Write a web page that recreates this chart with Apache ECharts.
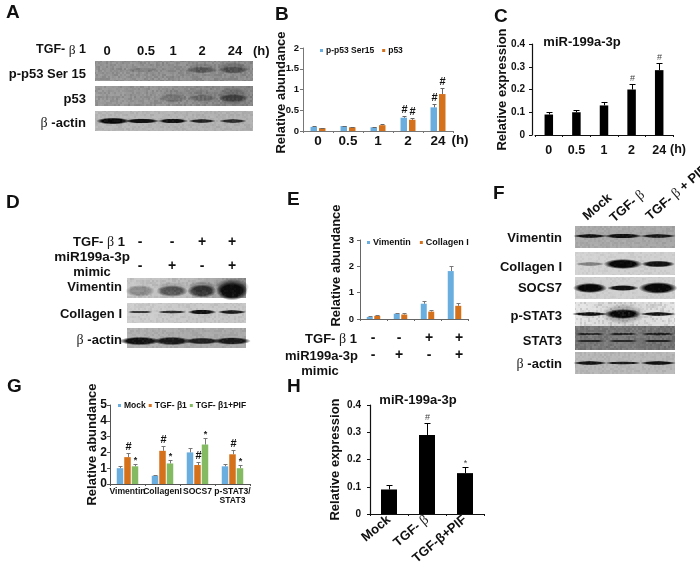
<!DOCTYPE html>
<html><head><meta charset="utf-8">
<style>html,body{margin:0;padding:0;background:#fff}#c{width:700px;height:573px}#c canvas{filter:blur(.4px)}</style>
<script src="https://cdn.jsdelivr.net/npm/echarts@6/dist/echarts.min.js"></script>
</head><body><div id="c"></div>
<script>
// ---------- data ----------
const hours = ['0','0.5','1','2','24'];
const bPhospho = [0.10,0.12,0.09,0.32,0.57];
const bPhosphoErr = [0.012,0.012,0.012,0.03,0.09];
const bPhosphoMark = ['','','','#','#'];
const bP53 = [0.07,0.09,0.14,0.27,0.89];
const bP53Err = [0.01,0.012,0.02,0.04,0.14];
const bP53Mark = ['','','','#','#'];
const cMir = [0.09,0.10,0.13,0.20,0.285];
const cMirErr = [0.012,0.012,0.015,0.022,0.033];
const cMirMark = ['','','','#','#'];
const eCats = ['a','b','c','d'];
const eVim = [0.08,0.2,0.58,1.82];
const eVimErr = [0.02,0.04,0.1,0.2];
const eCol = [0.12,0.17,0.28,0.5];
const eColErr = [0.02,0.04,0.06,0.1];
const gCats = ['Vimentin','CollagenI','SOCS7','p-STAT3/\nSTAT3'];
const gMock = [1.0,0.52,2.0,1.12];
const gMockErr = [0.12,0.05,0.25,0.12];
const gTgf = [1.7,2.1,1.2,1.88];
const gTgfErr = [0.25,0.3,0.2,0.28];
const gTgfMark = ['#','#','#','#'];
const gPif = [1.12,1.3,2.5,1.0];
const gPifErr = [0.17,0.2,0.4,0.18];
const gPifMark = ['*','*','*','*'];
const hCats = ['Mock','TGF- {b|β}','TGF-β+PIF'];
const hMir = [0.09,0.29,0.15];
const hMirErr = [0.015,0.045,0.022];
const hMirMark = ['','#','*'];

const BLUE='#6aaee0', ORANGE='#d5701b', GREEN='#84bb62', BLACK='#000';
const FF='"Liberation Sans",Arial,sans-serif';
const g=[], series=[], grids=[], xAxes=[], yAxes=[];

// ---------- text helpers ----------
function txt(s,x,y,size,align,rot){
  g.push({type:'text',x,y,rotation:rot||0,silent:true,z:10,style:{text:s,fontFamily:FF,fontWeight:'bold',fontSize:size,fill:'#111',
    align:align||'left',verticalAlign:'middle',
    rich:{b:{fontFamily:'"Liberation Serif",serif',fontWeight:'normal',fontSize:size+1,fill:'#222'}}}});
}
// ---------- chart helper ----------
function chart(o){
  const i=grids.length;
  grids.push({left:o.l,top:o.t,width:o.w,height:o.h});
  xAxes.push({gridIndex:i,type:'category',data:o.cats,
    axisLine:{lineStyle:{color:o.lineColor,width:o.lw}},
    axisTick:{show:true,length:2,lineStyle:{color:o.lineColor,width:1}},
    axisLabel:Object.assign({show:true,fontFamily:FF,fontWeight:'bold',color:'#111',fontSize:o.xFont,margin:o.xMargin,interval:0},o.xLabel||{})});
  yAxes.push({gridIndex:i,type:'value',min:0,max:o.max,interval:o.step,offset:o.yOffset||0,
    name:o.yName,nameLocation:'middle',nameGap:o.nameGap,nameMoveOverlap:false,
    nameTextStyle:Object.assign({fontFamily:FF,fontWeight:'bold',fontSize:13,color:'#111'},o.namePad?{padding:o.namePad}:{}),
    splitLine:{show:false},
    axisLine:{show:true,lineStyle:{color:o.lineColor,width:o.lw}},
    axisTick:{show:true,length:3,inside:false,lineStyle:{color:o.lineColor,width:1}},
    axisLabel:{fontFamily:FF,fontWeight:'bold',color:'#111',fontSize:o.yFont,margin:o.yMargin}});
  const n=o.s.length;
  o.s.forEach((s,k)=>{
    series.push({type:'bar',name:s.name,xAxisIndex:i,yAxisIndex:i,data:s.v,barWidth:o.bw,barGap:(o.gap/o.bw*100)+'%',
      itemStyle:{color:s.color},silent:true});
  });
  o.s.forEach((s,k)=>{
    const off=(k-(n-1)/2)*(o.bw+o.gap);
    series.push({type:'custom',xAxisIndex:i,yAxisIndex:i,silent:true,z:5,clip:false,
      data:s.v.map((v,j)=>[j,v,s.e[j]]),encode:{x:0,y:1},
      renderItem:(p,api)=>{
        const v=api.value(1), e=api.value(2), c=api.coord([api.value(0),v]), t=api.coord([api.value(0),v+e]);
        const x=Math.round(c[0]+off)+0.5, y=Math.round(t[1])+0.5;
        const kids=[
          {type:'line',shape:{x1:x,y1:c[1],x2:x,y2:y},style:{stroke:o.errColor,lineWidth:1}},
          {type:'line',shape:{x1:x-o.cap,y1:y,x2:x+o.cap,y2:y},style:{stroke:o.errColor,lineWidth:1}}];
        const m=s.m&&s.m[p.dataIndex];
        if(m){
          const st=o.mark[m];
          kids.push({type:'text',x:x,y:y-(m==='*'?-1:1),style:{text:m,fontFamily:FF,fontWeight:st.w,fontSize:st.s,fill:st.c,align:'center',verticalAlign:'bottom'}});
        }
        return {type:'group',children:kids};
      }});
  });
}
const boldMark={'#':{s:11,w:'bold',c:'#111'},'*':{s:9,w:'bold',c:'#222'}};
const thinMark={'#':{s:9,w:'normal',c:'#444'},'*':{s:9,w:'normal',c:'#444'}};

// B
chart({l:303,t:48,w:150,h:83,cats:hours,max:2,step:0.5,bw:6.5,gap:2,cap:2,errColor:'#666',lineColor:'#777',lw:1,
  xFont:13.5,xMargin:3,yFont:9.5,yMargin:4,yName:'Relative abundance',nameGap:15,namePad:[0,6,0,0],mark:boldMark,
  s:[{name:'p-p53 Ser15',v:bPhospho,e:bPhosphoErr,m:bPhosphoMark,color:BLUE},{name:'p53',v:bP53,e:bP53Err,m:bP53Mark,color:ORANGE}]});
// C
chart({l:535,t:44,w:138,h:91,cats:hours,max:0.4,step:0.1,bw:8.5,gap:0,cap:3,errColor:BLACK,lineColor:'#111',lw:1.2,yOffset:3,
  xFont:12.5,xMargin:9,yFont:10,yMargin:7,yName:'Relative expression',nameGap:23,mark:thinMark,
  s:[{name:'miR-199a-3p C',v:cMir,e:cMirErr,m:cMirMark,color:BLACK}]});
// E
chart({l:360,t:240,w:108,h:79,cats:eCats,max:3,step:1,bw:6,gap:1.5,cap:2,errColor:'#777',lineColor:'#666',lw:1,
  xFont:9,xMargin:3,xLabel:{show:false},yFont:9.5,yMargin:6,yName:'Relative abundance',nameGap:17,namePad:[0,0,0,28],mark:boldMark,
  s:[{name:'Vimentin',v:eVim,e:eVimErr,color:BLUE},{name:'Collagen I',v:eCol,e:eColErr,color:ORANGE}]});
// G
chart({l:110,t:405,w:140,h:79,cats:gCats,max:5,step:1,bw:6.5,gap:1,cap:2,errColor:'#777',lineColor:'#555',lw:1,
  xFont:8.6,xMargin:3,xLabel:{lineHeight:9},yFont:12,yMargin:3,yName:'Relative abundance',nameGap:11,mark:boldMark,
  s:[{name:'Mock',v:gMock,e:gMockErr,color:BLUE},{name:'TGF- β1',v:gTgf,e:gTgfErr,m:gTgfMark,color:ORANGE},{name:'TGF- β1+PIF',v:gPif,e:gPifErr,m:gPifMark,color:GREEN}]});
// H
chart({l:370,t:405,w:114,h:109,cats:hCats,max:0.4,step:0.1,bw:16,gap:0,cap:3,errColor:BLACK,lineColor:'#111',lw:1.2,
  xFont:13,xMargin:4,xLabel:{rotate:40,rich:{b:{fontFamily:'"Liberation Serif",serif',fontWeight:'normal',fontSize:14,color:'#222'}}},
  yFont:10,yMargin:9,yName:'Relative expression',nameGap:28,mark:thinMark,
  s:[{name:'miR-199a-3p H',v:hMir,e:hMirErr,m:hMirMark,color:BLACK}]});

// ---------- blot panels: lane centres and band strengths ----------
const lanesA=[113,142,173,202,233], lanesD=[140,172,202,232], lanesF=[590,623,658];
const grain=document.createElement('canvas'); grain.width=grain.height=128;
(function(){const c=grain.getContext('2d');
  for(let j=0;j<64;j++)for(let i=0;i<64;i++){
    const h=Math.sin(i*12.9898+j*78.233)*43758.5453, t=h-Math.floor(h);
    c.fillStyle=t>.5?'rgba(255,255,255,'+(t-.5)*.5+')':'rgba(0,0,0,'+(.5-t)*.5+')';
    c.fillRect(i*2,j*2,2,2);
  }})();
function grad(a,b,c){return {type:'linear',x:0,y:0,x2:1,y2:0,colorStops:[{offset:0,color:a},{offset:.5,color:b},{offset:1,color:c}]};}
function blot(x0,x1,y0,y1,bg,lanes,cy,w,hs,dark,noise){
  if(bg) g.push({type:'rect',shape:{x:x0,y:y0,width:x1-x0,height:y1-y0},style:{fill:bg},silent:true});
  lanes.forEach((cx,i)=>{
    if(!hs[i])return;
    const op=dark[i], ww=(Array.isArray(w)?w[i]:w)*1.22, hh=hs[i]*1.7, col='rgba(8,8,8,';
    g.push({type:'circle',shape:{cx:0,cy:0,r:1},x:cx,y:cy,scaleX:ww/2,scaleY:hh/2,silent:true,
      style:{fill:{type:'radial',x:.5,y:.5,r:.5,colorStops:[{offset:0,color:col+op+')'},{offset:.65,color:col+op+')'},{offset:1,color:col+'0)'}]}}});
  });
  if(noise) g.push({type:'rect',shape:{x:x0,y:y0,width:x1-x0,height:y1-y0},silent:true,
    style:{fill:{image:grain,repeat:'repeat'},opacity:noise}});
}
// A
blot(95,253,61,81,grad('#959595','#8f8f8f','#8b8b8b'),lanesA,70,26,[3,3,3,4,4],[.04,.14,.05,.35,.35],.4);
blot(0,0,0,0,null,[202,233],68,26,[6,7],[.1,.2],0);
blot(95,253,86,106,grad('#999','#909090','#808080'),lanesA,98,24,[3,3,5,4,5],[.02,.02,.14,.2,.45],.4);
blot(0,0,0,0,null,[173,202,233],96,26,[9,9,11],[.07,.08,.18],0);
blot(95,253,111,131,grad('#b8b8b8','#b4b4b4','#b0b0b0'),lanesA,121,[28,29,25,23,23],[4,3,3,2.5,2.5],[1,.95,.95,.85,.8],.25);
// D
blot(127,246,278,298,grad('#c8c8c8','#bbbbbb','#8c8c8c'),lanesD,291,[24,26,24,26],[7,7,8,11],[.3,.55,.7,.95],.3);
blot(0,0,0,0,null,[172,202,232],287,[26,24,28],[6,7,10],[.1,.2,.45],0);
blot(127,246,303,323,grad('#cfcfcf','#c8c8c8','#c8c8c8'),lanesD,312,[22,24,24,24],[1.5,2,3,2.5],[.75,.8,.95,.9],.25);
blot(127,246,328,348,grad('#b2b2b2','#aaaaaa','#aaaaaa'),lanesD,341,[34,31,30,31],[5,5,4,4.5],[.95,.9,.85,.9],.25);
// F
blot(575,675,226,248,grad('#ababab','#a9a9a9','#a5a5a5'),lanesF,236,[28,32,30],[2.5,3,2.5],[.95,.95,.9],.25);
blot(575,675,252,275,grad('#d4d4d4','#d0d0d0','#d0d0d0'),lanesF,264,[24,32,28],[2.5,6,4],[.4,1,.95],.2);
blot(575,675,277,299,grad('#cfcfcf','#d0d0d0','#cfcfcf'),lanesF,288,[28,26,32],[6,3.5,7],[1,.95,1],.2);
blot(575,675,302,326,grad('#e6e6e6','#d4d4d4','#e4e4e4'),lanesF,314,[30,30,30],[2.5,6,2.5],[.95,1,.95],.5);
blot(0,0,0,0,null,[623],314,36,[12],[.2],.0);
blot(575,675,326,350,grad('#757575','#777777','#6e6e6e'),lanesF,334,[26,26,28],[1.5,1.5,2],[.75,.75,.8],.4);
blot(0,0,0,0,null,lanesF,341,[26,26,28],[1.5,1.5,1.5],[.7,.7,.75],0);
blot(575,675,352,374,'#b8b8b8',lanesF,363,[28,30,30],[2.5,2,2.5],[.95,.9,.95],.25);

// ---------- free text ----------
[['A',6,13],['B',275,15],['C',494,17],['D',6,203],['E',287,200],['F',493,194],['G',7,387],['H',287,387]].forEach(t=>txt(t[0],t[1],t[2],19,'left'));
txt('TGF- {b|β} 1',86,50,12.5,'right');
txt('(h)',253,51,13,'left');
[[107,'0'],[146,'0.5'],[173,'1'],[202,'2'],[235,'24']].forEach(t=>txt(t[1],t[0],51,13,'center'));
txt('p-p53 Ser 15',86,74,13,'right');
txt('p53',86,99,13,'right');
txt('{b|β} -actin',86,123,13,'right');
txt('(h)',460,140,13.5,'center');
txt('(h)',678,150,12.5,'center');
// D
txt('TGF- {b|β} 1',125,242,13,'right');
txt('miR199a-3p',130,257,13.5,'right');
txt('mimic',92,272,13,'center');
txt('Vimentin',122,287,13,'right');
txt('Collagen I',122,314,13,'right');
txt('{b|β} -actin',122,340,13,'right');
const signsD1=['-','-','+','+'], signsD2=['-','+','-','+'];
lanesD.forEach((x,i)=>{txt(signsD1[i],x,242,14,'center');txt(signsD2[i],x,266,14,'center');});
// E
txt('TGF- {b|β} 1',357,339,13,'right');
txt('miR199a-3p',358,356,13,'right');
txt('mimic',320,371,13,'center');
[373,399,429,459].forEach((x,i)=>{txt(signsD1[i],x,338,14,'center');txt(signsD2[i],x,355,14,'center');});
// F
txt('Vimentin',562,238,13,'right');
txt('Collagen I',562,267,13,'right');
txt('SOCS7',562,288,13,'right');
txt('p-STAT3',562,316,13,'right');
txt('STAT3',562,341,13,'right');
txt('{b|β} -actin',562,364,13,'right');
const rot=41*Math.PI/180;
txt('Mock',585,218,13,'left',rot);
txt('TGF- {b|β}',612,220,13,'left',rot);
txt('TGF- {b|β} + PIF',648,218,13,'left',rot);

const option={
  animation:false,backgroundColor:'#fff',
  title:[
    {text:'miR-199a-3p',left:582,top:36,textAlign:'center',padding:0,textStyle:{fontFamily:FF,fontWeight:'bold',fontSize:13,color:'#111'}},
    {text:'miR-199a-3p',left:418,top:394,textAlign:'center',padding:0,textStyle:{fontFamily:FF,fontWeight:'bold',fontSize:13,color:'#111'}}
  ],
  legend:[
    {left:320,top:46,data:['p-p53 Ser15','p53'],icon:'rect',itemWidth:3,itemHeight:3,itemGap:8,selectedMode:false,padding:0,textStyle:{fontFamily:FF,fontWeight:'bold',fontSize:8.5,color:'#111',padding:[0,0,0,-2]}},
    {left:367,top:238,data:['Vimentin','Collagen I'],icon:'rect',itemWidth:3,itemHeight:3,itemGap:9,selectedMode:false,padding:0,textStyle:{fontFamily:FF,fontWeight:'bold',fontSize:9,color:'#111',padding:[0,0,0,-2]}},
    {left:118,top:401,data:['Mock','TGF- β1','TGF- β1+PIF'],icon:'rect',itemWidth:3,itemHeight:3,itemGap:3,selectedMode:false,padding:0,textStyle:{fontFamily:FF,fontWeight:'bold',fontSize:8.5,color:'#111',padding:[0,0,0,-2]}}
  ],
  grid:grids,xAxis:xAxes,yAxis:yAxes,series:series,graphic:{elements:g}
};
echarts.init(document.getElementById('c'),null,{renderer:'canvas'}).setOption(option);
</script></body></html>
